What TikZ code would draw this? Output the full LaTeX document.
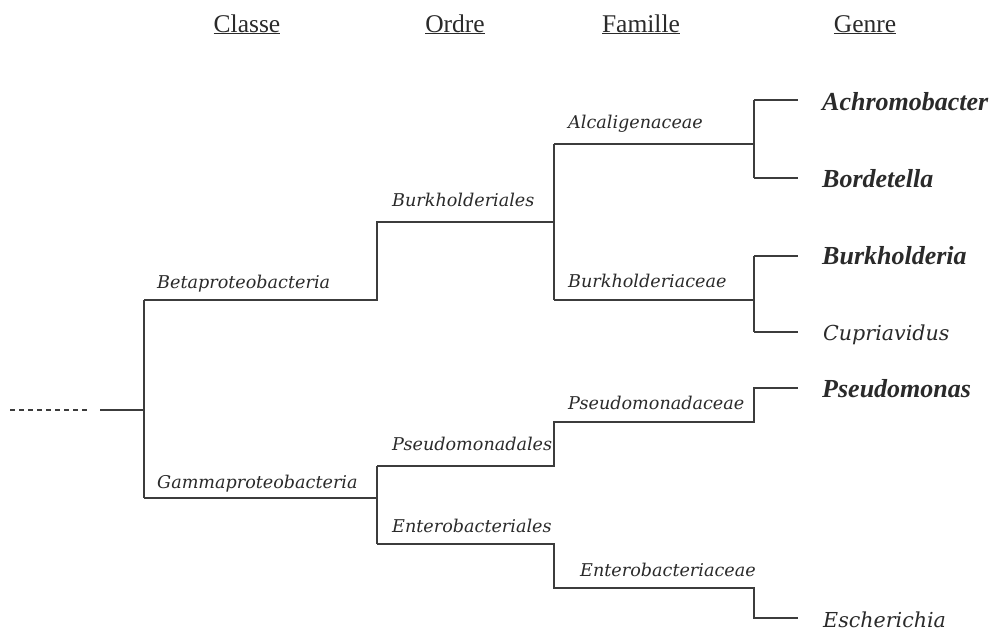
\documentclass[tikz,border=0pt]{standalone}
\usepackage{fontspec}
\setmainfont{Liberation Serif}
\newfontfamily\slabfont{DejaVu Serif}
\definecolor{ln}{HTML}{3C3C3C}
\definecolor{tx}{HTML}{2A2A2A}
\tikzset{
  br/.style={draw=ln, line width=1.2pt},
  lab/.style={anchor=base west, inner sep=0pt, text=tx, font=\slabfont\itshape\fontsize{17.6}{20}\selectfont},
  gen/.style={anchor=base west, inner sep=0pt, text=tx, font=\bfseries\itshape\fontsize{26}{29}\selectfont},
  genr/.style={anchor=base west, inner sep=0pt, text=tx, font=\slabfont\itshape\fontsize{20.6}{23}\selectfont},
  head/.style={anchor=base, inner sep=0pt, text=tx, font=\fontsize{25.5}{28}\selectfont}
}
\begin{document}
\begin{tikzpicture}[x=1pt,y=-1pt]
\useasboundingbox[fill=white] (0,0) rectangle (992,632);
% headers
\node[head] (hC) at (247,32) {\underline{Classe}};
\node[head] (hO) at (455,32) {\underline{Ordre}};
\node[head] (hF) at (641,32) {\underline{Famille}};
\node[head] (hG) at (865,32) {\underline{Genre}};
% junction coordinates
\coordinate (d0) at (10,410);
\coordinate (d1) at (90,410);
\coordinate (r0) at (100,410);
\coordinate (r) at (144,410);
\coordinate (b0) at (144,300);
\coordinate (g0) at (144,498);
\coordinate (b1) at (377,300);
\coordinate (o1a) at (377,222);
\coordinate (o1b) at (554,222);
\coordinate (f1a) at (554,144);
\coordinate (f1b) at (554,300);
\coordinate (f1c) at (754,144);
\coordinate (f1d) at (754,300);
\coordinate (ga) at (754,100);
\coordinate (gb) at (754,178);
\coordinate (gc) at (754,256);
\coordinate (gd) at (754,332);
\coordinate (gae) at (798,100);
\coordinate (gbe) at (798,178);
\coordinate (gce) at (798,256);
\coordinate (gde) at (798,332);
\coordinate (g1) at (377,498);
\coordinate (o2a) at (377,466);
\coordinate (o2b) at (377,544);
\coordinate (p1) at (554,466);
\coordinate (p2) at (554,422);
\coordinate (p3) at (754,422);
\coordinate (p4) at (754,388);
\coordinate (p5) at (798,388);
\coordinate (e1) at (554,544);
\coordinate (e2) at (554,588);
\coordinate (e3) at (754,588);
\coordinate (e4) at (754,618);
\coordinate (e5) at (798,618);
% branches
\draw[ln, line width=1.2pt, dash pattern=on 5pt off 4pt] (d0) -- (d1);
\draw[br] (r0) -- (r);
\draw[br] (b0) -- (g0);
\draw[br] (b0) -- (b1) -- (o1a) -- (o1b);
\draw[br] (f1a) -- (f1b);
\draw[br] (f1a) -- (f1c);
\draw[br] (f1b) -- (f1d);
\draw[br] (ga) -- (gb);
\draw[br] (gc) -- (gd);
\draw[br] (ga) -- (gae);
\draw[br] (gb) -- (gbe);
\draw[br] (gc) -- (gce);
\draw[br] (gd) -- (gde);
\draw[br] (g0) -- (g1);
\draw[br] (o2a) -- (o2b);
\draw[br] (o2a) -- (p1) -- (p2) -- (p3) -- (p4) -- (p5);
\draw[br] (o2b) -- (e1) -- (e2) -- (e3) -- (e4) -- (e5);
% labels
\node[lab] (nBeta) at (157,288) {Betaproteobacteria};
\node[lab] (nGamma) at (157,488) {Gammaproteobacteria};
\node[lab] (nBurkO) at (392,206) {Burkholderiales};
\node[lab] (nAlc) at (568,128) {Alcaligenaceae};
\node[lab] (nBurkF) at (568,287) {Burkholderiaceae};
\node[lab] (nPsO) at (392,450) {Pseudomonadales};
\node[lab] (nPsF) at (568,409) {Pseudomonadaceae};
\node[lab] (nEnO) at (392,532) {Enterobacteriales};
\node[lab] (nEnF) at (580,576) {Enterobacteriaceae};
\node[gen] (nAch) at (822,110) {Achromobacter};
\node[gen] (nBor) at (822,187) {Bordetella};
\node[gen] (nBur) at (822,264) {Burkholderia};
\node[genr] (nCup) at (823,340) {Cupriavidus};
\node[gen] (nPse) at (822,397) {Pseudomonas};
\node[genr] (nEsc) at (823,627) {Escherichia};
\end{tikzpicture}
\end{document}
